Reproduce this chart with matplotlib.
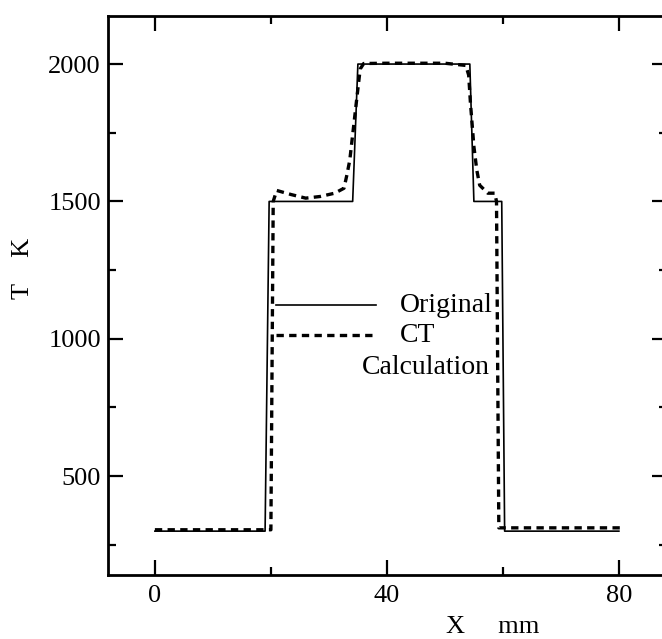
import matplotlib.pyplot as plt
from matplotlib.ticker import MultipleLocator

# temperature profile along X: original field and CT reconstruction
x_orig = [0, 19.0, 19.7, 34.1, 35.0, 54.3, 55.0, 59.8, 60.3, 80]
t_orig = [300, 300, 1500, 1500, 2000, 2000, 1500, 1500, 300, 300]

x_ct = [0, 20.0, 20.2, 20.4, 21.0, 23.5, 26.0, 28.5, 31.0, 32.6, 33.1, 33.6,
        34.3, 35.0, 35.4, 36.0, 40.0, 45.0, 50.0, 53.6, 54.1, 54.4, 55.0,
        55.5, 56.0, 57.4, 58.6, 58.9, 59.1, 59.3, 80.5]
t_ct = [305, 305, 900, 1500, 1540, 1525, 1512, 1518, 1530, 1548, 1596, 1650,
        1780, 1910, 1982, 2002, 2003, 2003, 2003, 1995, 1960, 1860, 1700,
        1614, 1559, 1530, 1530, 1500, 900, 312, 312]

xticks = [0, 40, 80]
yticks = [500, 1000, 1500, 2000]

plt.rcParams['font.family'] = ['Liberation Serif', 'DejaVu Serif']

fig = plt.figure(figsize=(6.62, 6.39), dpi=100)
ax = fig.add_axes([0.163, 0.100, 0.8446, 0.875])

ax.plot(x_orig, t_orig, '-k', lw=1.2)
ax.plot(x_ct, t_ct, color='k', lw=2.4, dashes=(2.2, 1.6))

ax.set_xlim(-8.1, 88.3)
ax.set_ylim(140, 2175)
ax.set_xticks(xticks)
ax.set_yticks(yticks)
ax.xaxis.set_minor_locator(MultipleLocator(20))
ax.yaxis.set_minor_locator(MultipleLocator(250))

ax.tick_params(which='both', direction='in', top=True, right=True,
               labelsize=19, width=1.6)
ax.tick_params(axis='x', pad=7)
ax.tick_params(axis='y', pad=5)
ax.tick_params(which='major', length=11)
ax.tick_params(which='minor', length=5.5)
for s in ax.spines.values():
    s.set_linewidth(2.0)

ax.text(0.689, -0.112, 'X     mm', transform=ax.transAxes, fontsize=19,
        ha='center', va='bottom')
ax.text(-0.152, 0.549, 'T    K', transform=ax.transAxes, fontsize=19,
        rotation=90, ha='center', va='center')

# hand-placed key
ax.plot([0.300, 0.480], [0.483, 0.483], '-k', lw=1.2, transform=ax.transAxes)
ax.plot([0.300, 0.480], [0.429, 0.429], color='k', lw=2.4, dashes=(2.2, 1.6),
        transform=ax.transAxes)
ax.text(0.523, 0.483, 'Original', transform=ax.transAxes, fontsize=20,
        ha='left', va='center')
ax.text(0.523, 0.429, 'CT', transform=ax.transAxes, fontsize=20,
        ha='left', va='center')
ax.text(0.684, 0.372, 'Calculation', transform=ax.transAxes, fontsize=20,
        ha='right', va='center')

fig.savefig('out.png', dpi=100)
